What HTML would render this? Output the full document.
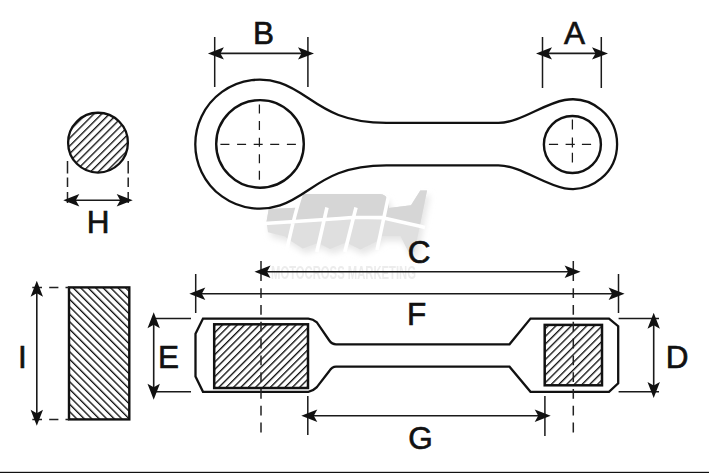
<!DOCTYPE html>
<html><head><meta charset="utf-8"><style>
html,body{margin:0;padding:0;background:#fff;}
svg{display:block;}
.t{font-family:"Liberation Sans",sans-serif;font-size:31.5px;fill:#111;stroke:#111;stroke-width:0.65px;}
</style></head><body>
<svg width="709" height="473" viewBox="0 0 709 473">
<defs>
<pattern id="hc" patternUnits="userSpaceOnUse" x="2.85" width="5.515" height="10" patternTransform="rotate(45)"><rect x="0" y="0" width="1.35" height="10" fill="#111"/></pattern>
<pattern id="hr1" patternUnits="userSpaceOnUse" x="1.53" width="5.2" height="10" patternTransform="rotate(45)"><rect x="0" y="0" width="1.35" height="10" fill="#111"/></pattern>
<pattern id="hr2" patternUnits="userSpaceOnUse" x="1.46" width="5.45" height="10" patternTransform="rotate(45)"><rect x="0" y="0" width="1.35" height="10" fill="#111"/></pattern>
<pattern id="hb" patternUnits="userSpaceOnUse" x="1.22" width="5.3" height="10" patternTransform="rotate(-45)"><rect x="0" y="0" width="1.35" height="10" fill="#111"/></pattern>
<filter id="blur1"><feGaussianBlur stdDeviation="0.6"/></filter>
<filter id="blur" x="-20%" y="-20%" width="140%" height="140%"><feGaussianBlur stdDeviation="3"/></filter>
</defs>
<rect width="709" height="473" fill="#fff"/>
<!-- watermark -->
<path d="M268.7,209 L296.5,207.8 L301,194 L380,194 Q386,194.5 387.5,199.5 L389,208 L411,205.2 L420.3,190.4 L427,190.4 L414.5,252 L408.5,252 L400.5,236.3 L379,236.3 L376.2,241.8 L360.4,249.5 L346,242.5 L330,249 L318,243 L302.7,248.5 L289.4,240 L285,236.5 L268,232.3 L266.5,222 Z" fill="#e6e6e6" transform="translate(3,5)" filter="url(#blur)"/>
<clipPath id="up"><path d="M250,180 L440,180 L440,228 L419,226 L381.5,217.6 L355,217.2 L340,218.5 L280,222.5 L250,224.5 Z"/></clipPath>
<path d="M268.7,209 L296.5,207.8 L301,194 L380,194 Q386,194.5 387.5,199.5 L389,208 L411,205.2 L420.3,190.4 L427,190.4 L414.5,252 L408.5,252 L400.5,236.3 L379,236.3 L376.2,241.8 L360.4,249.5 L346,242.5 L330,249 L318,243 L302.7,248.5 L289.4,240 L285,236.5 L268,232.3 L266.5,222 Z" fill="#dfdfdf"/>
<path d="M268.7,209 L296.5,207.8 L301,194 L380,194 Q386,194.5 387.5,199.5 L389,208 L411,205.2 L420.3,190.4 L427,190.4 L414.5,252 L408.5,252 L400.5,236.3 L379,236.3 L376.2,241.8 L360.4,249.5 L346,242.5 L330,249 L318,243 L302.7,248.5 L289.4,240 L285,236.5 L268,232.3 L266.5,222 Z" fill="#d6d6d6" clip-path="url(#up)"/>
<path d="M302,192 Q295,212 286.8,250 M327,207.5 L316.8,252 M356,207.5 L344.8,252 M388.5,196 L377,250 M264,223.5 L280,222.5 L340,218.5 L355,217.2 L381.5,217.6 L419,226 L425,227.5" stroke="#fff" stroke-width="3.6" stroke-linejoin="round" fill="none"/>
<text x="271" y="279" font-family="Liberation Sans" font-weight="bold" font-size="18" fill="#ececec" textLength="145" lengthAdjust="spacingAndGlyphs" filter="url(#blur1)">MOTOCROSS MARKETING</text>
<!-- H circle -->
<circle cx="98" cy="142.65" r="29.9" fill="url(#hc)" stroke="#111" stroke-width="2.3"/>
<path d="M67.5,161 L67.5,173.5 M67.5,177.5 L67.5,187 M67.5,192 L67.5,203 M128.2,161 L128.2,173.5 M128.2,177.5 L128.2,187 M128.2,192 L128.2,203" stroke="#222" stroke-width="1.5" fill="none"/>
<!-- I rect -->
<rect x="69" y="287.4" width="60.3" height="132" fill="url(#hb)" stroke="#111" stroke-width="2.4"/>
<path d="M32.3,287.4 L42,287.4 M49.2,287.4 L58.4,287.4 M65.5,287.4 L69,287.4 M32.3,419.4 L42,419.4 M49.2,419.4 L58.4,419.4 M65.5,419.4 L69,419.4" stroke="#222" stroke-width="1.5" fill="none"/>
<!-- top view -->
<path d="M280,82.9 C312.3,93.5 323.7,122.9 386.4,122.9 L498.4,122.9 C520,122.9 543.2,103.75 564.7,100.0 A44.8,44.8 0 1 1 564.7,188.3 C543.2,184.5 520,165.4 498.4,165.4 L386.4,165.4 C323.7,165.4 312.3,194.8 280,205.4 A64.5,64.5 0 1 1 280,82.9 Z" fill="none" stroke="#111" stroke-width="2.3"/>
<circle cx="260" cy="143.9" r="43.8" fill="none" stroke="#111" stroke-width="2.4"/>
<circle cx="572.4" cy="144.5" r="28.5" fill="none" stroke="#111" stroke-width="2.4"/>
<path d="M220.4,144.4 L229.4,144.4 M237.1,144.4 L246.1,144.4 M253.7,144.4 L262.7,144.4 M270.2,144.4 L279.2,144.4 M286.9,144.4 L295.9,144.4 M259.4,104.5 L259.4,113.5 M259.4,121.0 L259.4,130.0 M259.4,137.7 L259.4,146.7 M259.4,154.2 L259.4,163.2 M259.4,170.7 L259.4,179.7 M548.9,144.4 L558.1,144.4 M565.6,144.4 L574.8000000000001,144.4 M581.9,144.4 L591.1,144.4 M572.4,119.6 L572.4,129.4 M572.4,137.6 L572.4,147.4 M572.4,152.79999999999998 L572.4,162.6" stroke="#1a1a1a" stroke-width="1.25" fill="none"/>
<!-- side view -->
<path d="M203,318.6 L308.3,318.6 Q313,319 316.9,322.4 L329.3,340.5 Q332,344.3 336,344.3 L509.5,344.3 L530.5,318.6 L609,318.6 L618.2,326.2 L618.2,383.3 L609,391.8 L530.5,391.8 L509.5,366.7 L336,366.7 Q332,366.8 329.3,371 L316.9,387.1 Q313,391 308.3,391.8 L203,391.8 L195.5,376.5 L195.5,333.8 Z" fill="#fff" stroke="#111" stroke-width="2.3"/>
<rect x="214.2" y="324.3" width="93.8" height="63.7" fill="url(#hr1)" stroke="#111" stroke-width="2.5"/>
<rect x="544.7" y="324.9" width="57.3" height="60.4" fill="url(#hr2)" stroke="#111" stroke-width="2.5"/>
<path d="M261,261 L261,281 M573.3,261 L573.3,281" stroke="#222" stroke-width="1.5" fill="none"/>
<path d="M261,288.2 L261,432.5 M573.3,288.2 L573.3,433" stroke="#222" stroke-width="1.5" fill="none" stroke-dasharray="9.8 7"/>
<!-- dimension lines -->
<path d="M214.7,37 L214.7,87 M307.9,37 L307.9,87 M542.5,37 L542.5,88 M601.3,37 L601.3,88 M195.7,274 L195.7,313 M618.5,274 L618.5,313 M307.8,396 L307.8,435 M544.9,396 L544.9,436 M155,318.6 L191,318.6 M155,391.8 L191,391.8 M618.6,318.6 L659,318.6 M618.6,391.8 L659,391.8" stroke="#1a1a1a" stroke-width="1.5" fill="none"/>
<path d="M211.9,53.4 L310,53.4 M540,53.4 L604,53.4 M67.3,200.2 L128.7,200.2 M258.5,271.8 L576.6,271.8 M193.3,293.8 L620.6,293.8 M305.3,415.7 L546.7,415.7 M153.7,316.3 L153.7,395.8 M653.7,316.7 L653.7,394 M36.8,284.8 L36.8,421.8" stroke="#1a1a1a" stroke-width="1.6" fill="none"/>
<path d="M207.9,53.4 L223.9,47.199999999999996 L220.4,53.4 L223.9,59.6 Z M314,53.4 L298,47.199999999999996 L301.5,53.4 L298,59.6 Z M536,53.4 L552,47.199999999999996 L548.5,53.4 L552,59.6 Z M608,53.4 L592,47.199999999999996 L595.5,53.4 L592,59.6 Z M63.3,200.2 L79.3,194.0 L75.8,200.2 L79.3,206.39999999999998 Z M132.7,200.2 L116.69999999999999,194.0 L120.19999999999999,200.2 L116.69999999999999,206.39999999999998 Z M254.5,271.8 L270.5,265.6 L267.0,271.8 L270.5,278.0 Z M580.6,271.8 L564.6,265.6 L568.1,271.8 L564.6,278.0 Z M189.3,293.8 L205.3,287.6 L201.8,293.8 L205.3,300.0 Z M624.6,293.8 L608.6,287.6 L612.1,293.8 L608.6,300.0 Z M301.3,415.7 L317.3,409.5 L313.8,415.7 L317.3,421.9 Z M550.7,415.7 L534.7,409.5 L538.2,415.7 L534.7,421.9 Z M153.7,312.3 L147.5,328.3 L153.7,324.8 L159.89999999999998,328.3 Z M153.7,399.8 L147.5,383.8 L153.7,387.3 L159.89999999999998,383.8 Z M653.7,312.7 L647.5,328.7 L653.7,325.2 L659.9000000000001,328.7 Z M653.7,398 L647.5,382 L653.7,385.5 L659.9000000000001,382 Z M36.8,280.8 L30.599999999999998,296.8 L36.8,293.3 L43.0,296.8 Z M36.8,425.8 L30.599999999999998,409.8 L36.8,413.3 L43.0,409.8 Z" fill="#111"/>
<!-- letters -->
<text class="t" x="263.6" y="44.2" text-anchor="middle">B</text>
<text class="t" x="574.6" y="44.2" text-anchor="middle">A</text>
<text class="t" x="98" y="232.9" text-anchor="middle">H</text>
<text class="t" x="419.2" y="262.6" text-anchor="middle">C</text>
<text class="t" x="416.6" y="324.6" text-anchor="middle">F</text>
<text class="t" x="420.4" y="448.7" text-anchor="middle">G</text>
<text class="t" x="168.5" y="368" text-anchor="middle">E</text>
<text class="t" x="677.2" y="367.5" text-anchor="middle">D</text>
<text class="t" x="22.5" y="367.9" text-anchor="middle">I</text>
<rect x="0" y="471.8" width="709" height="1.2" fill="#111"/>
</svg>
</body></html>
